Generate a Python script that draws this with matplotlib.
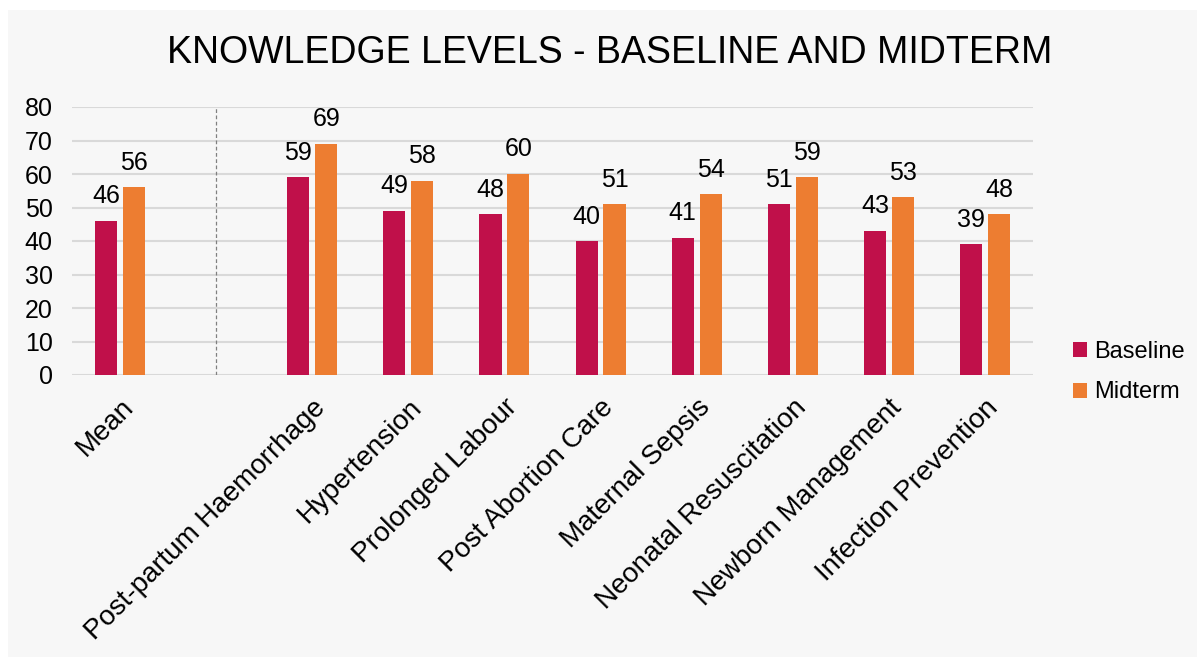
import numpy as np
import matplotlib.pyplot as plt
from matplotlib.patches import Rectangle

plt.rcParams['font.family'] = ['Liberation Sans', 'DejaVu Sans']

categories = ["Mean", "", "Post-partum Haemorrhage", "Hypertension", "Prolonged Labour",
              "Post Abortion Care", "Maternal Sepsis", "Neonatal Resuscitation",
              "Newborn Management", "Infection Prevention"]
baseline = [46, None, 59, 49, 48, 40, 41, 51, 43, 39]
midterm = [56, None, 69, 58, 60, 51, 54, 59, 53, 48]
yticks = [0, 10, 20, 30, 40, 50, 60, 70, 80]

c_base = "#C0104A"
c_mid = "#ED7D31"
bg = "#F7F7F7"

fig = plt.figure(figsize=(11.97, 6.57), dpi=100)
fig.patch.set_facecolor("white")
fig.patches.append(Rectangle((8 / 1197, 0), 1, 1 - 10 / 657, transform=fig.transFigure,
                             facecolor=bg, edgecolor="none", zorder=-10))

ax = fig.add_axes([72 / 1197, 1 - 375 / 657, (1033 - 72) / 1197, (375 - 107) / 657])
ax.set_facecolor(bg)

x = np.arange(len(categories))
w = 0.23
off = 0.145
for i in range(len(categories)):
    if baseline[i] is None:
        continue
    ax.bar(x[i] - off, baseline[i], w, color=c_base, zorder=3,
           label="Baseline" if i == 0 else None)
    ax.bar(x[i] + off, midterm[i], w, color=c_mid, zorder=3,
           label="Midterm" if i == 0 else None)
    ax.annotate(str(baseline[i]), (x[i] - off, baseline[i]), xytext=(0, 9),
                textcoords="offset points", ha="center", va="bottom", fontsize=18)
    ax.annotate(str(midterm[i]), (x[i] + off, midterm[i]), xytext=(0, 9),
                textcoords="offset points", ha="center", va="bottom", fontsize=18)

# separator between Mean and the topics
ax.axvline(1, ymin=0, ymax=1, color="#808080", linestyle=(0, (3, 2)), linewidth=0.9, zorder=2)

ax.set_xlim(-0.5, len(categories) - 0.5)
ax.set_ylim(0, 80)
ax.set_yticks(yticks)
ax.grid(axis="y", color="#D9D9D9", linewidth=1.5, zorder=0)
for s in ax.spines.values():
    s.set_visible(False)
ax.tick_params(axis="both", length=0)
ax.tick_params(axis="y", pad=14, labelsize=18)
ax.tick_params(axis="x", pad=14)
ax.set_xticks(x)
ax.set_xticklabels(categories, rotation=45, ha="right", rotation_mode="anchor")
for lab in ax.get_xticklabels():
    lab.set_fontsize(20)

fig.text(610 / 1197, 1 - 53 / 657, "KNOWLEDGE LEVELS - BASELINE AND MIDTERM",
         ha="center", va="center", fontsize=27)

fig.legend(loc="center left", bbox_to_anchor=(1052 / 1197, 1 - 372 / 657), frameon=False,
           fontsize=17, handlelength=0.6, handleheight=0.6, handletextpad=0.3,
           labelspacing=0.8)

fig.savefig("out.png", dpi=100, facecolor=fig.get_facecolor())
